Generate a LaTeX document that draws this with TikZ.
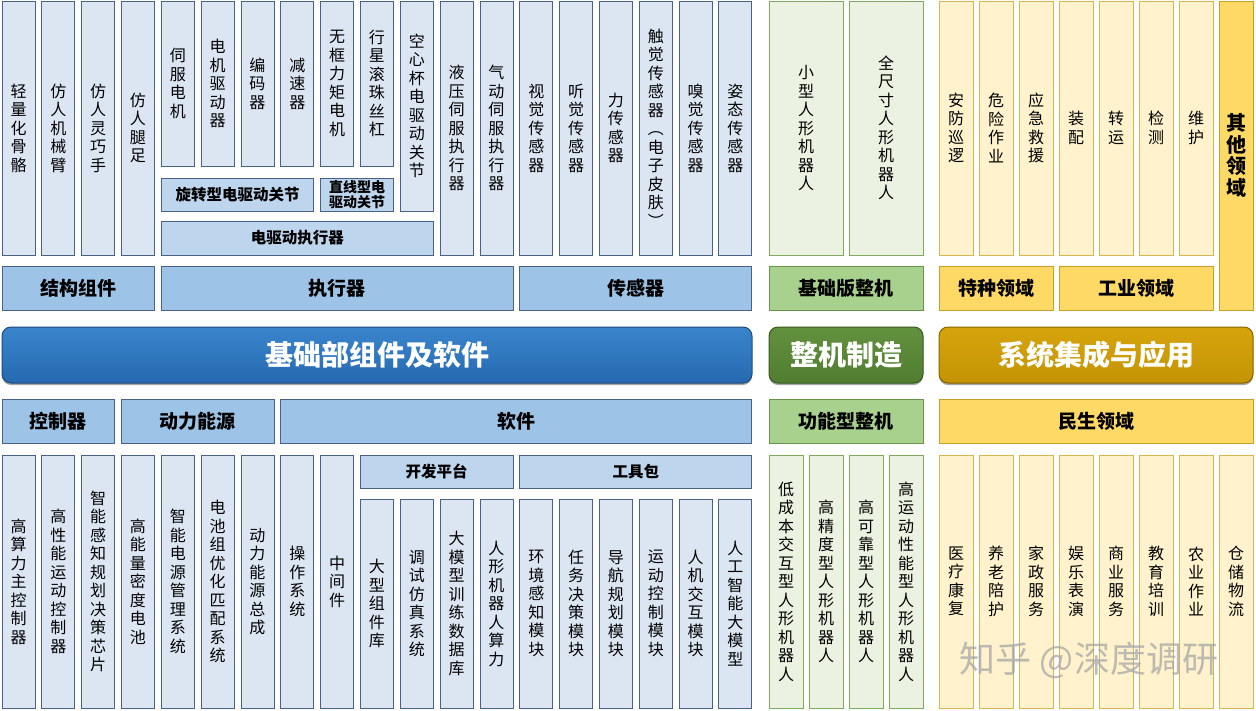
\documentclass[tikz,border=0pt]{standalone}
\usepackage{fontspec}
\setmainfont{Noto Sans CJK SC}
\usetikzlibrary{shadows}
\definecolor{lblue}{RGB}{220,230,242}
\definecolor{sblue}{RGB}{190,213,238}
\definecolor{cblue}{RGB}{157,195,230}
\definecolor{bdr}{RGB}{72,98,135}
\definecolor{bigbt}{RGB}{58,133,205}
\definecolor{bigbb}{RGB}{38,105,176}
\definecolor{bigbd}{RGB}{30,75,125}
\definecolor{lgreen}{RGB}{235,242,226}
\definecolor{gbdr}{RGB}{130,170,95}
\definecolor{cgreen}{RGB}{169,209,142}
\definecolor{cgbdr}{RGB}{105,150,75}
\definecolor{biggt}{RGB}{98,145,62}
\definecolor{biggb}{RGB}{80,125,48}
\definecolor{biggd}{RGB}{55,90,32}
\definecolor{lyel}{RGB}{255,242,204}
\definecolor{ybdr}{RGB}{215,180,80}
\definecolor{cyel}{RGB}{255,217,102}
\definecolor{cybdr}{RGB}{200,160,40}
\definecolor{bigyt}{RGB}{214,164,12}
\definecolor{bigyb}{RGB}{196,148,4}
\definecolor{bigyd}{RGB}{135,100,0}
\makeatletter
\def\vt#1{\vt@a#1\vt@end}
\def\vt@a#1{#1\vt@b}
\def\vt@b#1{\ifx\vt@end#1\else\\#1\expandafter\vt@b\fi}
\def\vt@end{\vt@end}
\makeatother
\newcommand\vfont{\fontsize{16}{18.5}\selectfont}
\newcommand\catfont{\bfseries\fontsize{19}{21}\selectfont}
\newcommand\subfont{\bfseries\fontsize{15.5}{17}\selectfont}
\newcommand\bigfont{\bfseries\fontsize{28}{30}\selectfont}
\newcommand\B[7]{\node[#2,minimum width={(#5)-(#3)},minimum height={(#6)-(#4)}] (#1) at ({((#3)+(#5))/2},{((#4)+(#6))/2}) {#7};}
\newcommand\Lx[1]{(2+39.83*(#1))}
\newcommand\Rx[1]{(35+39.83*(#1))}
\newcommand\colbox[6]{\B{#1}{#2}{\Lx{#3}}{#4}{\Rx{#3}}{#5}{\vt{#6}}}
\newcommand\spanbox[7]{\B{#1}{#2}{\Lx{#3}}{#5}{\Rx{#4}}{#6}{#7}}
\newcommand\gbox[5]{\B{#1}{lg}{(769+40*(#2))}{#3}{(803+40*(#2))}{#4}{\vt{#5}}}
\newcommand\ybox[5]{\B{#1}{ly}{(939+40*(#2))}{#3}{(973+40*(#2))}{#4}{\vt{#5}}}
\tikzset{
  base/.style={draw, line width=0.9pt, inner sep=0pt, outer sep=0pt, align=center},
  lb/.style={base, fill=lblue, draw=bdr, font=\vfont},
  sb/.style={base, fill=sblue, draw=bdr, font=\subfont},
  cb/.style={base, fill=cblue, draw=bdr, font=\catfont},
  lg/.style={base, fill=lgreen, draw=gbdr, font=\vfont},
  cg/.style={base, fill=cgreen, draw=cgbdr, font=\catfont},
  ly/.style={base, fill=lyel, draw=ybdr, font=\vfont},
  cy/.style={base, fill=cyel, draw=cybdr, font=\catfont},
  bigbar/.style={draw, line width=1pt, rounded corners=9pt, inner sep=0pt, outer sep=0pt, font=\bigfont, text=white,
    drop shadow={shadow xshift=0pt, shadow yshift=-2pt, opacity=0.35, fill=black}},
  bigblue/.style={bigbar, draw=bigbd, top color=bigbt, bottom color=bigbb},
  biggreen/.style={bigbar, draw=biggd, top color=biggt, bottom color=biggb},
  bigyel/.style={bigbar, draw=bigyd, top color=bigyt, bottom color=bigyb},
}
\begin{document}
\begin{tikzpicture}[x=1pt,y=-1pt]
\useasboundingbox[fill=white] (0,0) rectangle (1256,710);
% ---------- top left: components ----------
\colbox{t0}{lb}{0}{1}{255}{轻量化骨骼}
\colbox{t1}{lb}{1}{1}{255}{仿人机械臂}
\colbox{t2}{lb}{2}{1}{255}{仿人灵巧手}
\colbox{t3}{lb}{3}{1}{255}{仿人腿足}
\colbox{t4}{lb}{4}{1}{166}{伺服电机}
\colbox{t5}{lb}{5}{1}{166}{电机驱动器}
\colbox{t6}{lb}{6}{1}{166}{编码器}
\colbox{t7}{lb}{7}{1}{166}{减速器}
\colbox{t8}{lb}{8}{1}{166}{无框力矩电机}
\colbox{t9}{lb}{9}{1}{166}{行星滚珠丝杠}
\colbox{t10}{lb}{10}{1}{211}{空心杯电驱动关节}
\colbox{t11}{lb}{11}{1}{255}{液压伺服执行器}
\colbox{t12}{lb}{12}{1}{255}{气动伺服执行器}
\colbox{t13}{lb}{13}{1}{255}{视觉传感器}
\colbox{t14}{lb}{14}{1}{255}{听觉传感器}
\colbox{t15}{lb}{15}{1}{255}{力传感器}
\colbox{t16}{lb}{16}{1}{255}{触觉传感器︵电子皮肤︶}
\colbox{t17}{lb}{17}{1}{255}{嗅觉传感器}
\colbox{t18}{lb}{18}{1}{255}{姿态传感器}
\spanbox{rot}{sb}{4}{7}{178}{211}{旋转型电驱动关节}
\spanbox{lin}{sb, font=\bfseries\fontsize{14}{15.5}\selectfont}{8}{9}{178}{211}{直线型电\\驱动关节}
\spanbox{eda}{sb}{4}{10}{221}{255}{电驱动执行器}
\spanbox{jg}{cb}{0}{3}{266}{310}{结构组件}
\spanbox{zx}{cb}{4}{12}{266}{310}{执行器}
\spanbox{cg}{cb}{13}{18}{266}{310}{传感器}
% ---------- top right ----------
\B{xs}{lg}{769}{1}{843}{255}{\vt{小型人形机器人}}
\B{qc}{lg}{849}{1}{923}{255}{\vt{全尺寸人形机器人}}
\B{jcb}{cg}{769}{266}{923}{310}{基础版整机}
\ybox{y0}{0}{1}{255}{安防巡逻}
\ybox{y1}{1}{1}{255}{危险作业}
\ybox{y2}{2}{1}{255}{应急救援}
\ybox{y3}{3}{1}{255}{装配}
\ybox{y4}{4}{1}{255}{转运}
\ybox{y5}{5}{1}{255}{检测}
\ybox{y6}{6}{1}{255}{维护}
\B{tz}{cy}{939}{266}{1053}{310}{特种领域}
\B{gy}{cy}{1059}{266}{1213}{310}{工业领域}
\B{qt}{cy, font=\bfseries\fontsize{20}{21.5}\selectfont}{1219}{1}{1253}{310}{\vt{其他领域}}
% ---------- middle bars ----------
\B{m1}{bigblue}{2}{327}{752}{383}{基础部组件及软件}
\B{m2}{biggreen}{769}{327}{923}{383}{整机制造}
\B{m3}{bigyel}{939}{327}{1253}{383}{系统集成与应用}
% ---------- bottom left ----------
\spanbox{kz}{cb}{0}{2}{399}{443}{控制器}
\spanbox{dl}{cb}{3}{6}{399}{443}{动力能源}
\spanbox{rj}{cb}{7}{18}{399}{443}{软件}
\spanbox{kf}{sb}{9}{12}{455}{488}{开发平台}
\spanbox{gj}{sb}{13}{18}{455}{488}{工具包}
\colbox{b0}{lb}{0}{455}{708}{高算力主控制器}
\colbox{b1}{lb}{1}{455}{708}{高性能运动控制器}
\colbox{b2}{lb}{2}{455}{708}{智能感知规划决策芯片}
\colbox{b3}{lb}{3}{455}{708}{高能量密度电池}
\colbox{b4}{lb}{4}{455}{708}{智能电源管理系统}
\colbox{b5}{lb}{5}{455}{708}{电池组优化匹配系统}
\colbox{b6}{lb}{6}{455}{708}{动力能源总成}
\colbox{b7}{lb}{7}{455}{708}{操作系统}
\colbox{b8}{lb}{8}{455}{708}{中间件}
\colbox{b9}{lb}{9}{499}{708}{大型组件库}
\colbox{b10}{lb}{10}{499}{708}{调试仿真系统}
\colbox{b11}{lb}{11}{499}{708}{大模型训练数据库}
\colbox{b12}{lb}{12}{499}{708}{人形机器人算力}
\colbox{b13}{lb}{13}{499}{708}{环境感知模块}
\colbox{b14}{lb}{14}{499}{708}{任务决策模块}
\colbox{b15}{lb}{15}{499}{708}{导航规划模块}
\colbox{b16}{lb}{16}{499}{708}{运动控制模块}
\colbox{b17}{lb}{17}{499}{708}{人机交互模块}
\colbox{b18}{lb}{18}{499}{708}{人工智能大模型}
% ---------- bottom right ----------
\B{gn}{cg}{769}{399}{923}{443}{功能型整机}
\gbox{g0}{0}{455}{708}{低成本交互型人形机器人}
\gbox{g1}{1}{455}{708}{高精度型人形机器人}
\gbox{g2}{2}{455}{708}{高可靠型人形机器人}
\gbox{g3}{3}{455}{708}{高运动性能型人形机器人}
\B{ms}{cy}{939}{399}{1253}{443}{民生领域}
\ybox{z0}{0}{455}{708}{医疗康复}
\ybox{z1}{1}{455}{708}{养老陪护}
\ybox{z2}{2}{455}{708}{家政服务}
\ybox{z3}{3}{455}{708}{娱乐表演}
\ybox{z4}{4}{455}{708}{商业服务}
\ybox{z5}{5}{455}{708}{教育培训}
\ybox{z6}{6}{455}{708}{农业作业}
\ybox{z7}{7}{455}{708}{仓储物流}
% ---------- watermark ----------
\node[font=\fontsize{36}{38}\selectfont, text=gray!70, opacity=0.75, inner sep=0pt] (wm) at (1089,660) {知乎 @深度调研};
\end{tikzpicture}
\end{document}
